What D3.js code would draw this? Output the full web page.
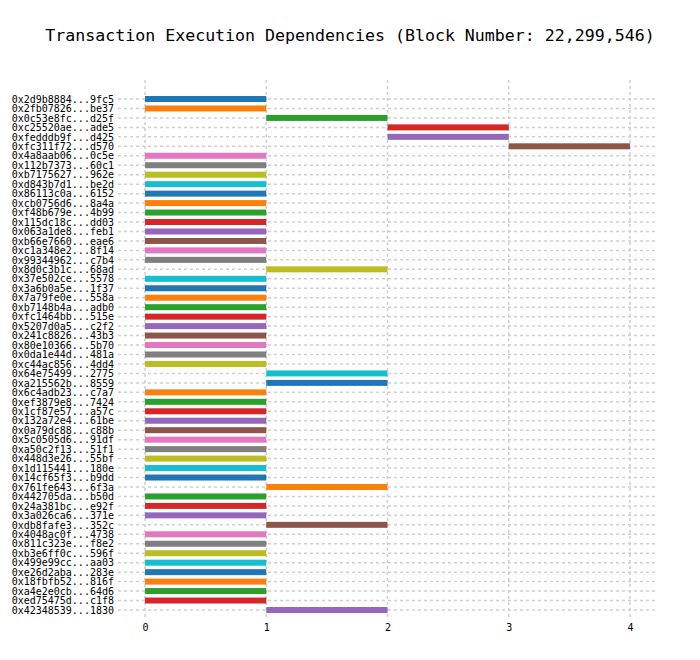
<!DOCTYPE html>
<html>
<head>
<meta charset="utf-8">
<script src="https://cdn.jsdelivr.net/npm/d3@7"></script>
<style>
  body { margin: 0; background: #fff; }
  text { font-family: "DejaVu Sans Mono", monospace; }
</style>
</head>
<body>
<svg id="chart" width="700" height="660"></svg>
<script>
const title = "Transaction Execution Dependencies (Block Number: 22,299,546)";
const txLabels = [
  "0x2d9b8884...9fc5","0x2fb07826...be37","0x0c53e8fc...d25f","0xc25520ae...ade5","0xfedddb9f...d425",
  "0xfc311f72...d570","0x4a8aab06...0c5e","0x112b7373...60c1","0xb7175627...962e","0xd843b7d1...be2d",
  "0x86113c0a...6152","0xcb0756d6...8a4a","0xf48b679e...4b99","0x115dc18c...dd03","0x063a1de8...feb1",
  "0xb66e7660...eae6","0xc1a348e2...8f14","0x99344962...c7b4","0x8d0c3b1c...68ad","0x37e502ce...5578",
  "0x3a6b0a5e...1f37","0x7a79fe0e...558a","0xb7148b4a...adb0","0xfc1464bb...515e","0x5207d0a5...c2f2",
  "0x241c8826...43b3","0x80e10366...5b70","0x0da1e44d...481a","0xc44ac856...4dd4","0x64e75499...2775",
  "0xa215562b...8559","0x6c4adb23...c7a7","0xef3879e8...7424","0x1cf87e57...a57c","0x132a72e4...61be",
  "0x0a79dc88...c88b","0x5c0505d6...91df","0xa50c2f13...51f1","0x448d3e26...55bf","0x1d115441...180e",
  "0x14cf65f3...b9dd","0x761fe643...6f3a","0x442705da...b50d","0x24a381bc...e92f","0x3a026ca6...371e",
  "0xdb8fafe3...352c","0x4048ac0f...4738","0x811c323e...f8e2","0xb3e6ff0c...596f","0x499e99cc...aa03",
  "0xe26d2aba...283e","0x18fbfb52...816f","0xa4e2e0cb...64d6","0xed75475d...c1f8","0x42348539...1830"
];
// start level of each transaction (bar spans start -> start+1)
const startLevels = [
  0,0,1,2,2, 3,0,0,0,0, 0,0,0,0,0, 0,0,0,1,0,
  0,0,0,0,0, 0,0,0,0,1, 1,0,0,0,0, 0,0,0,0,0,
  0,1,0,0,0, 1,0,0,0,0, 0,0,0,0,1
];
const xTicks = [0, 1, 2, 3, 4];
const palette = ["#1f77b4","#ff7f0e","#2ca02c","#d62728","#9467bd","#8c564b","#e377c2","#7f7f7f","#bcbd22","#17becf"];

const svg = d3.select("#chart");
const plot = { left: 118, right: 657, top: 80, bottom: 618 };

const x = d3.scaleLinear().domain([-0.223, 4.223]).range([plot.left, plot.right]);
const y = d3.scalePoint().domain(txLabels).range([99, 610]);
const color = d3.scaleOrdinal().domain(txLabels).range(palette);

svg.append("text")
  .attr("x", 350).attr("y", 41)
  .attr("text-anchor", "middle")
  .attr("font-size", "16.6px")
  .attr("fill", "#000")
  .text(title);

// horizontal grid
svg.append("g").selectAll("line").data(txLabels).join("line")
  .attr("x1", plot.left).attr("x2", plot.right)
  .attr("y1", d => y(d)).attr("y2", d => y(d))
  .attr("stroke", "#cfcfcf").attr("stroke-width", 1.5)
  .attr("stroke-dasharray", "3,3");

// vertical grid
svg.append("g").selectAll("line").data(xTicks).join("line")
  .attr("x1", d => x(d)).attr("x2", d => x(d))
  .attr("y1", plot.top).attr("y2", plot.bottom)
  .attr("stroke", "#cfcfcf").attr("stroke-width", 1.5)
  .attr("stroke-dasharray", "3,3");

// bars
svg.append("g").selectAll("rect").data(txLabels).join("rect")
  .attr("x", (d, i) => x(startLevels[i]))
  .attr("width", (d, i) => x(startLevels[i] + 1) - x(startLevels[i]))
  .attr("y", d => y(d) - 3)
  .attr("height", 6)
  .attr("fill", d => color(d));

// y labels
const yAxis = d3.axisLeft(y).tickSize(0).tickPadding(4);
const gy = svg.append("g").attr("transform", `translate(${plot.left},0)`).call(yAxis);
gy.select(".domain").remove();
gy.selectAll("text").attr("font-size", "10px").attr("font-family", "DejaVu Sans Mono, monospace").attr("fill", "#000");

// x labels
const xAxis = d3.axisBottom(x).tickValues(xTicks).tickSize(0).tickPadding(6).tickFormat(d3.format("d"));
const gx = svg.append("g").attr("transform", `translate(0,${plot.bottom})`).call(xAxis);
gx.select(".domain").remove();
gx.selectAll("text").attr("font-size", "10px").attr("font-family", "DejaVu Sans Mono, monospace").attr("fill", "#000");
</script>
</body>
</html>
